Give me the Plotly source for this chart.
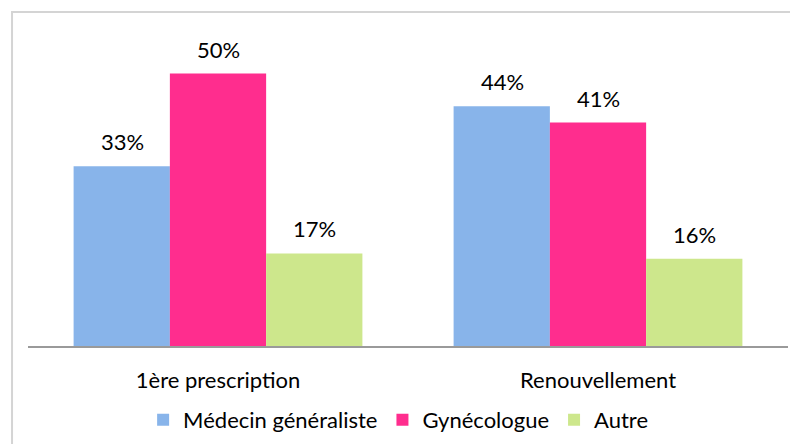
import plotly.graph_objects as go

categories = ["1ère prescription", "Renouvellement"]
series_names = ["Médecin généraliste", "Gynécologue", "Autre"]
medecin = [33, 44]
gyneco = [50, 41]
autre = [17, 16]
labels_medecin = ["33%", "44%"]
labels_gyneco = ["50%", "41%"]
labels_autre = ["17%", "16%"]

colors = ["#88b4ea", "#ff2d8e", "#cde78c"]
FONT = "Lato, 'Open Sans', sans-serif"
FS = 22

fig = go.Figure()
series = [medecin, gyneco, autre]
labels = [labels_medecin, labels_gyneco, labels_autre]
for name, vals, col in zip(series_names, series, colors):
    fig.add_trace(go.Bar(
        x=categories, y=vals, name=name,
        marker=dict(color=col, line=dict(width=0)),
    ))

# value labels above bars
offsets = [-96, 0, 96]
for vals, labs, dx in zip(series, labels, offsets):
    for c, v, t in zip(categories, vals, labs):
        fig.add_annotation(x=c, y=v, text=t, showarrow=False,
                           xshift=dx, yshift=9, yanchor="bottom",
                           font=dict(family=FONT, size=FS, color="#000"))

# outer frame
fig.add_shape(type="rect", xref="paper", yref="paper",
              x0=-0.021, x1=1.2, y0=-1.0, y1=1.057,
              line=dict(color="#d4d4d4", width=2), layer="below")

fig.update_layout(
    width=790, height=444,
    margin=dict(l=28, r=2, t=30, b=98, autoexpand=False),
    paper_bgcolor="white", plot_bgcolor="white",
    barmode="group", bargap=0.24, bargroupgap=0,
    font=dict(family=FONT, size=FS, color="#000"),
    showlegend=True,
    legend=dict(orientation="h", x=0.487, xanchor="center", y=-0.234, yanchor="middle",
                font=dict(family=FONT, size=FS, color="#000"),
                itemwidth=30, traceorder="normal"),
    xaxis=dict(showline=True, linecolor="#9a9a9a", linewidth=2,
               ticks="", showgrid=False, ticklabelstandoff=14,
               tickfont=dict(family=FONT, size=FS, color="#000")),
    yaxis=dict(range=[0, 58], visible=False, showgrid=False, zeroline=False),
)

fig.write_html("out.html", config={"displayModeBar": False},
               post_script="document.body.style.margin='0';")
